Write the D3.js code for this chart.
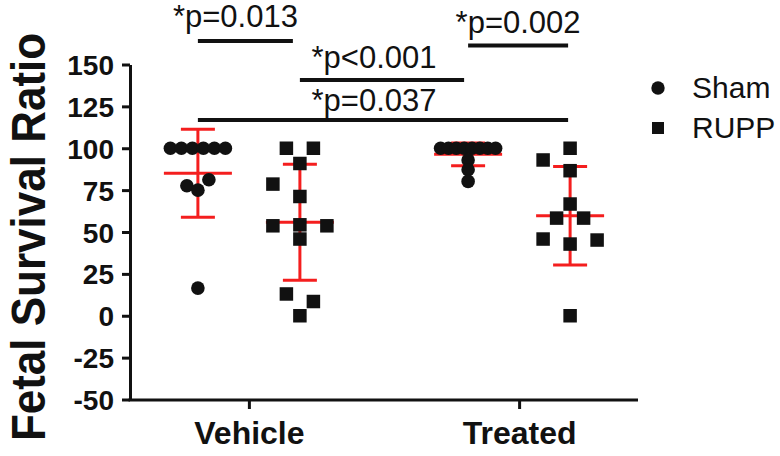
<!DOCTYPE html>
<html>
<head>
<meta charset="utf-8">
<script src="https://cdn.jsdelivr.net/npm/d3@7"></script>
<style>
  html, body { margin: 0; padding: 0; background: #fff; }
  svg { display: block; font-family: "Liberation Sans", Arial, sans-serif; }
</style>
</head>
<body>
<svg id="chart" width="780" height="456"></svg>
<script>
// ---------------- data ----------------
const categories = ["Vehicle", "Treated"];
const series = ["Sham", "RUPP"];
const vehicleSham = [100, 100, 100, 100, 100, 100, 77.6, 75.0, 81.2, 16.5];
const vehicleRUPP = [100, 100, 90.9, 78.6, 71.2, 53.7, 54.3, 53.7, 45.8, 13.0, 8.5, 0];
const treatedSham = [100, 100, 100, 100, 100, 100, 100, 100, 93.0, 87.2, 80.2];
const treatedRUPP = [100, 93.0, 86.6, 66.7, 58.3, 58.3, 45.8, 42.8, 45.2, 0];
const yTicks = [-50, -25, 0, 25, 50, 75, 100, 125, 150];
const yTitle = "Fetal Survival Ratio";
const sigLabels = ["*p=0.013", "*p<0.001", "*p=0.037", "*p=0.002"];
const sigFrom = [["Vehicle", "Sham"], ["Vehicle", "RUPP"], ["Vehicle", "Sham"], ["Treated", "Sham"]];
const sigTo = [["Vehicle", "RUPP"], ["Treated", "Sham"], ["Treated", "RUPP"], ["Treated", "RUPP"]];

const groups = [
  { cat: "Vehicle", ser: "Sham", values: vehicleSham },
  { cat: "Vehicle", ser: "RUPP", values: vehicleRUPP },
  { cat: "Treated", ser: "Sham", values: treatedSham },
  { cat: "Treated", ser: "RUPP", values: treatedRUPP }
];

// ---------------- layout ----------------
const svg = d3.select("#chart");
const y = d3.scaleLinear().domain([-50, 150]).range([399.5, 64.5]);
const x = d3.scalePoint().domain(categories).range([130, 638]).padding(0.44);
const xs = d3.scalePoint().domain(series).range([-51, 51]);
const pos = (c, s) => x(c) + xs(s);
const RED = "#f41e1e";

const markerStyle = {
  Sham: { rowStep: 11, maxSpread: 55, tol: 9, collide: 9, shift: 11 },
  RUPP: { rowStep: 27, maxSpread: 55, tol: 9, collide: 13, shift: 27 }
};

// simple deterministic column-scatter (swarm) layout
function swarm(values, opt) {
  const order = d3.range(values.length).sort((a, b) => values[a] - values[b] || a - b);
  const rows = [];
  let cur = null, prev = null;
  order.forEach(i => {
    if (cur && Math.abs(y(values[i]) - y(values[prev])) <= opt.tol) cur.push(i);
    else { cur = [i]; rows.push(cur); }
    prev = i;
  });
  const off = new Array(values.length);
  const placed = [];
  rows.forEach(row => {
    if (row.length > 1) {
      const m = row.slice().sort((a, b) => a - b);
      const sp = Math.min(opt.rowStep, opt.maxSpread / (m.length - 1));
      m.forEach((i, k) => { off[i] = (k - (m.length - 1) / 2) * sp; placed.push(i); });
    } else {
      const i = row[0];
      const cands = [0];
      for (let k = 1; k < 6; k++) cands.push(-k * opt.shift, k * opt.shift);
      for (const c of cands) {
        const hit = placed.some(j => Math.abs(off[j] - c) < opt.collide &&
          Math.abs(y(values[j]) - y(values[i])) < opt.collide);
        if (!hit) { off[i] = c; break; }
      }
      placed.push(i);
    }
  });
  return off;
}

// ---------------- axes ----------------
const yAxis = d3.axisLeft(y).tickValues(yTicks).tickFormat(d => String(d))
  .tickSize(8).tickPadding(8).tickSizeOuter(0);
const gy = svg.append("g").attr("transform", "translate(130,0)").call(yAxis);
gy.select(".domain").attr("stroke", "#111").attr("stroke-width", 3);
gy.selectAll(".tick line").attr("stroke", "#111").attr("stroke-width", 3);
gy.selectAll(".tick text")
  .attr("fill", "#111")
  .style("font-size", "28px").style("font-weight", "bold")
  .attr("dy", "0.36em");

const xAxis = d3.axisBottom(x).tickSize(9).tickPadding(12).tickSizeOuter(0);
const gx = svg.append("g").attr("transform", "translate(0,400)").call(xAxis);
gx.select(".domain").attr("stroke", "#111").attr("stroke-width", 3).attr("d", "M128.5,0H638");
gx.selectAll(".tick line").attr("stroke", "#111").attr("stroke-width", 3);
gx.selectAll(".tick text")
  .attr("fill", "#111")
  .style("font-size", "32px").style("font-weight", "bold")
  .attr("dy", "0.71em");

svg.append("text")
  .attr("transform", "translate(45,237) rotate(-90) scale(1,1.08)")
  .attr("text-anchor", "middle")
  .style("font-size", "44px").style("font-weight", "bold")
  .attr("fill", "#111")
  .text(yTitle);

// ---------------- error bars (mean ± SD) ----------------
const eb = svg.append("g");
groups.forEach(g => {
  const cx = pos(g.cat, g.ser);
  const m = d3.mean(g.values), sd = d3.deviation(g.values);
  const seg = (x1, y1, x2, y2) => eb.append("line")
    .attr("x1", x1).attr("y1", y1).attr("x2", x2).attr("y2", y2)
    .attr("stroke", RED).attr("stroke-width", 3);
  seg(cx, y(m - sd), cx, y(m + sd));
  seg(cx - 17, y(m + sd), cx + 17, y(m + sd));
  seg(cx - 17, y(m - sd), cx + 17, y(m - sd));
  seg(cx - 34, y(m), cx + 34, y(m));
});

// ---------------- points ----------------
const pts = svg.append("g");
groups.forEach(g => {
  const cx = pos(g.cat, g.ser);
  const off = swarm(g.values, markerStyle[g.ser]);
  g.values.forEach((v, i) => {
    if (g.ser === "Sham") {
      pts.append("circle").attr("cx", cx + off[i]).attr("cy", y(v)).attr("r", 6.8).attr("fill", "#111");
    } else {
      pts.append("rect").attr("x", cx + off[i] - 6.75).attr("y", y(v) - 6.75)
        .attr("width", 13.5).attr("height", 13.5).attr("fill", "#111");
    }
  });
});

// ---------------- significance brackets ----------------
const lineY = [41, 80, 120, 45.5];
const textY = [27, 68, 111, 33];
const textDx = [-10, -8, -9, 0];
const endInset = [[0, -7], [0, -4], [0, -2], [0, -2]];
const sg = svg.append("g");
sigLabels.forEach((lab, k) => {
  const x1 = pos(sigFrom[k][0], sigFrom[k][1]) + endInset[k][0];
  const x2 = pos(sigTo[k][0], sigTo[k][1]) + endInset[k][1];
  sg.append("line").attr("x1", x1).attr("x2", x2).attr("y1", lineY[k]).attr("y2", lineY[k])
    .attr("stroke", "#111").attr("stroke-width", 4);
  sg.append("text").attr("x", (x1 + x2) / 2 + textDx[k]).attr("y", textY[k])
    .attr("text-anchor", "middle").style("font-size", "31px").attr("fill", "#111").text(lab);
});

// ---------------- legend ----------------
const lg = svg.append("g");
lg.append("circle").attr("cx", 658).attr("cy", 88).attr("r", 6.7).attr("fill", "#111");
lg.append("rect").attr("x", 652).attr("y", 122).attr("width", 12).attr("height", 12).attr("fill", "#111");
lg.append("text").attr("x", 692).attr("y", 98).style("font-size", "30px").attr("fill", "#111").text(series[0]);
lg.append("text").attr("x", 692).attr("y", 138).style("font-size", "30px").attr("fill", "#111").text(series[1]);
</script>
</body>
</html>
